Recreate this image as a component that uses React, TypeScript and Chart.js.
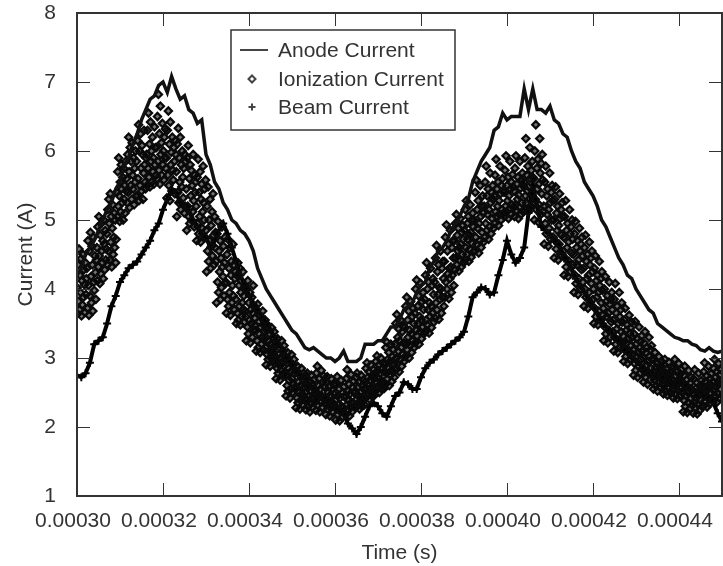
import React, { useEffect, useRef } from "react";
import { Chart, registerables } from "chart.js";

Chart.register(...registerables);

const seriesNames = ["Anode Current", "Ionization Current", "Beam Current"];
const xAxisTitle = "Time (s)";
const yAxisTitle = "Current (A)";
const FONT = "'Liberation Sans', Arial, sans-serif";
const INK = "#333333";

// sampled every 1 microsecond starting at 0.00030 s
const anodeCurrent = [
  4.2, 4.3, 4.5, 4.6, 4.7, 4.85, 5.0, 5.15, 5.25, 5.45, 5.55, 5.8, 5.9, 6.1, 6.25, 6.45, 6.6, 6.75, 6.8, 6.95,
  7.0, 6.85, 7.08, 6.9, 6.75, 6.8, 6.6, 6.55, 6.4, 6.45, 5.95, 5.8, 5.55, 5.45, 5.25, 5.15, 5.0, 4.95, 4.85, 4.8,
  4.7, 4.55, 4.3, 4.15, 4.0, 3.9, 3.8, 3.7, 3.6, 3.5, 3.4, 3.35, 3.25, 3.15, 3.12, 3.15, 3.1, 3.05, 3.0, 3.0,
  2.95, 3.0, 3.1, 2.95, 2.95, 2.95, 3.0, 3.2, 3.2, 3.2, 3.25, 3.25, 3.35, 3.45, 3.45, 3.55, 3.7, 3.75, 3.8, 3.95,
  4.05, 4.1, 4.3, 4.4, 4.55, 4.6, 4.7, 4.85, 4.95, 5.05, 5.2, 5.3, 5.55, 5.7, 5.85, 5.95, 6.05, 6.3, 6.35, 6.55,
  6.45, 6.5, 6.5, 6.5, 6.9, 6.6, 6.9, 6.6, 6.6, 6.55, 6.65, 6.45, 6.4, 6.25, 6.2, 6.0, 5.85, 5.75, 5.55, 5.45,
  5.35, 5.2, 5.0, 4.9, 4.75, 4.6, 4.45, 4.35, 4.2, 4.15, 4.0, 3.9, 3.8, 3.7, 3.65, 3.5, 3.45, 3.4, 3.35, 3.3,
  3.28, 3.25, 3.25, 3.2, 3.18, 3.12, 3.1, 3.15, 3.1, 3.08, 3.1,
];

const beamCurrent = [
  2.75, 2.72, 2.78, 2.93, 3.2, 3.25, 3.3, 3.5, 3.75, 3.9, 4.1, 4.2, 4.3, 4.35, 4.4, 4.5, 4.6, 4.7, 4.85, 4.95,
  5.15, 5.3, 5.45, 5.4, 5.25, 5.2, 5.15, 5.0, 4.9, 4.8, 4.75, 4.6, 4.7, 4.85, 4.95, 4.8, 4.6, 4.4, 4.2, 4.05,
  3.9, 3.8, 3.7, 3.6, 3.5, 3.4, 3.3, 3.2, 3.1, 3.0, 2.9, 2.8, 2.75, 2.7, 2.6, 2.55, 2.5, 2.45, 2.4, 2.35,
  2.3, 2.25, 2.2, 2.05, 1.98, 1.9, 2.0, 2.15, 2.3, 2.35, 2.3, 2.2, 2.15, 2.3, 2.45, 2.5, 2.65, 2.62, 2.55, 2.55,
  2.72, 2.85, 2.93, 2.98, 3.05, 3.1, 3.15, 3.2, 3.25, 3.3, 3.38, 3.6, 3.88, 3.95, 4.02, 4.0, 3.92, 3.95, 4.2, 4.42,
  4.7, 4.5, 4.38, 4.45, 4.6, 5.1, 5.5, 5.2, 4.9, 4.85, 4.8, 4.7, 4.65, 4.5, 4.4, 4.3, 4.15, 4.05, 3.95, 3.85,
  3.75, 3.65, 3.55, 3.45, 3.4, 3.3, 3.25, 3.15, 3.1, 3.0, 2.95, 2.9, 2.85, 2.8, 2.75, 2.7, 2.7, 2.65, 2.65, 2.6,
  2.65, 2.6, 2.6, 2.55, 2.5, 2.5, 2.45, 2.4, 2.35, 2.2, 2.08,
];

// ionization samples are evenly spaced in time across the whole axis
const ionFirstPeak = [
  4.02, 3.64, 4.35, 3.82, 4.58, 3.7, 4.2, 3.95, 4.44, 3.61, 4.12, 3.77, 4.5, 3.88, 4.28, 4.06, 3.66, 4.38, 3.92, 4.15,
  4.3, 3.72, 4.7, 4.05, 3.62, 4.55, 3.9, 4.82, 4.18, 3.8, 4.62, 4.35, 3.68, 4.75, 4.1, 3.98, 4.48, 4.24, 3.85, 4.42,
  4.6, 4.12, 4.9, 4.32, 5.05, 4.48, 4.08, 4.78, 4.22, 4.95, 4.55, 4.38, 4.7, 4.15, 5.0, 4.65, 4.28, 4.85, 4.42, 4.58,
  4.8, 4.35, 5.15, 4.55, 5.3, 4.95, 4.42, 5.38, 4.68, 5.05, 4.32, 4.88, 5.22, 4.5, 4.75, 5.1, 4.6, 5.0, 4.38, 4.72,
  5.4, 5.05, 5.7, 5.2, 5.9, 5.35, 4.98, 5.55, 5.12, 5.8, 5.45, 5.25, 5.62, 5.0, 5.75, 5.3, 5.5, 5.1, 5.85, 5.42,
  5.6, 5.25, 5.95, 5.4, 6.2, 5.7, 5.18, 6.05, 5.5, 5.85, 5.3, 6.12, 5.65, 5.45, 5.9, 5.22, 5.75, 5.55, 6.0, 5.35,
  5.85, 5.35, 6.15, 5.6, 6.38, 5.28, 6.0, 5.5, 6.25, 5.75, 5.42, 6.08, 5.95, 5.3, 5.68, 6.3, 5.8, 5.55, 5.45, 5.9,
  5.95, 5.5, 6.3, 5.75, 6.55, 5.62, 6.1, 5.48, 6.42, 5.85, 6.0, 5.55, 6.2, 5.7, 5.9, 5.52, 6.35, 5.8, 6.05, 5.65,
  6.05, 5.6, 6.5, 5.85, 6.82, 5.72, 6.25, 5.52, 6.65, 5.95, 6.12, 5.65, 6.4, 5.8, 6.0, 5.58, 6.2, 5.9, 6.32, 5.75,
  5.9, 5.32, 6.3, 5.65, 6.58, 5.5, 6.1, 5.28, 6.42, 5.8, 5.98, 5.42, 6.2, 5.72, 5.58, 6.05, 5.85, 5.38, 6.15, 5.95,
  5.7, 5.05, 6.1, 5.4, 6.33, 5.25, 5.9, 5.55, 6.2, 5.15, 5.8, 5.48, 6.0, 5.62, 5.32, 5.75, 5.1, 5.95, 5.2, 5.85,
  5.45, 4.85, 5.9, 5.2, 6.08, 5.05, 5.6, 4.95, 5.8, 5.35, 5.72, 5.0, 5.5, 5.12, 5.95, 5.28, 4.9, 5.65, 5.4, 5.55,
  5.2, 4.7, 5.62, 4.95, 5.88, 4.8, 5.4, 5.05, 5.7, 4.68, 5.3, 5.52, 4.88, 5.12, 5.78, 5.25, 5.0, 5.45, 4.75, 5.58,
  4.85, 4.25, 5.2, 4.55, 5.48, 4.4, 5.0, 4.7, 5.3, 4.3, 4.92, 4.62, 5.12, 4.48, 5.38, 4.78, 4.35, 5.05, 4.6, 4.82,
  4.4, 3.8, 4.8, 4.1, 4.98, 3.95, 4.55, 4.25, 4.7, 3.85, 4.45, 4.02, 4.9, 4.32, 4.18, 4.62, 3.9, 4.38, 4.75, 4.08,
];

const ionTrough = [
  4.1, 3.65, 4.5, 3.85, 4.72, 3.75, 4.3, 3.95, 4.6, 3.62, 4.2, 4.4, 3.8, 4.05, 4.65, 3.9, 4.35, 3.7, 4.15, 4.25,
  3.85, 3.5, 4.2, 3.65, 4.38, 3.55, 4.05, 3.75, 4.3, 3.48, 3.95, 4.12, 3.6, 3.8, 4.25, 3.7, 3.9, 3.52, 4.0, 3.68,
  3.6, 3.25, 4.0, 3.45, 4.12, 3.35, 3.8, 3.55, 3.95, 3.22, 3.7, 3.5, 3.88, 3.3, 3.65, 4.05, 3.4, 3.75, 3.58, 3.48,
  3.4, 3.1, 3.7, 3.25, 3.78, 3.15, 3.52, 3.35, 3.62, 3.08, 3.45, 3.2, 3.58, 3.3, 3.68, 3.12, 3.48, 3.38, 3.28, 3.55,
  3.15, 2.9, 3.4, 3.05, 3.48, 2.98, 3.25, 3.1, 3.35, 2.88, 3.2, 3.0, 3.44, 3.12, 2.95, 3.3, 3.08, 3.38, 3.18, 3.02,
  2.95, 2.7, 3.2, 2.85, 3.28, 2.78, 3.05, 2.9, 3.15, 2.68, 3.0, 2.82, 3.25, 2.92, 2.75, 3.1, 2.88, 3.18, 2.98, 2.8,
  2.75, 2.45, 3.0, 2.6, 3.08, 2.52, 2.85, 2.68, 2.95, 2.42, 2.8, 2.55, 3.05, 2.7, 2.5, 2.9, 2.62, 2.98, 2.78, 2.58,
  2.55, 2.28, 2.8, 2.42, 2.88, 2.35, 2.65, 2.5, 2.75, 2.26, 2.6, 2.38, 2.85, 2.48, 2.32, 2.7, 2.45, 2.78, 2.58, 2.4,
  2.5, 2.25, 2.7, 2.38, 2.78, 2.3, 2.58, 2.45, 2.65, 2.22, 2.52, 2.34, 2.75, 2.42, 2.28, 2.62, 2.4, 2.68, 2.55, 2.36,
  2.5, 2.24, 2.78, 2.4, 2.88, 2.32, 2.6, 2.46, 2.7, 2.22, 2.55, 2.36, 2.82, 2.44, 2.28, 2.65, 2.42, 2.74, 2.58, 2.34,
  2.42, 2.18, 2.65, 2.32, 2.73, 2.26, 2.5, 2.38, 2.58, 2.16, 2.46, 2.28, 2.7, 2.36, 2.22, 2.55, 2.34, 2.62, 2.48, 2.3,
  2.38, 2.1, 2.62, 2.26, 2.73, 2.18, 2.46, 2.32, 2.55, 2.09, 2.42, 2.22, 2.68, 2.3, 2.14, 2.5, 2.28, 2.58, 2.44, 2.2,
  2.45, 2.18, 2.7, 2.32, 2.83, 2.25, 2.52, 2.38, 2.62, 2.16, 2.48, 2.28, 2.76, 2.36, 2.22, 2.58, 2.34, 2.66, 2.5, 2.3,
  2.52, 2.28, 2.72, 2.4, 2.78, 2.34, 2.58, 2.45, 2.65, 2.26, 2.5, 2.36, 2.75, 2.42, 2.3, 2.6, 2.38, 2.68, 2.55, 2.32,
  2.65, 2.42, 2.85, 2.55, 2.93, 2.48, 2.72, 2.6, 2.8, 2.4, 2.68, 2.5, 2.9, 2.58, 2.45, 2.75, 2.52, 2.83, 2.7, 2.46,
  2.75, 2.52, 2.95, 2.65, 3.03, 2.58, 2.82, 2.7, 2.9, 2.5, 2.78, 2.6, 3.0, 2.68, 2.55, 2.85, 2.62, 2.92, 2.8, 2.56,
  2.9, 2.62, 3.15, 2.78, 3.23, 2.7, 2.98, 2.85, 3.08, 2.6, 2.95, 2.75, 3.2, 2.82, 2.66, 3.02, 2.8, 3.12, 2.92, 2.72,
];

const ionSecondPeak = [
  3.2, 2.82, 3.5, 3.0, 3.63, 2.92, 3.3, 3.1, 3.42, 2.8, 3.25, 2.98, 3.55, 3.15, 2.88, 3.38, 3.05, 3.46, 3.22, 2.95,
  3.45, 3.02, 3.75, 3.2, 3.88, 3.12, 3.55, 3.3, 3.68, 3.0, 3.4, 3.18, 3.82, 3.35, 3.08, 3.6, 3.25, 3.72, 3.5, 3.15,
  3.65, 3.22, 4.0, 3.4, 4.13, 3.32, 3.75, 3.5, 3.9, 3.2, 3.6, 3.38, 4.08, 3.55, 3.28, 3.82, 3.45, 3.95, 3.7, 3.35,
  3.85, 3.38, 4.2, 3.55, 4.38, 3.48, 4.0, 3.7, 4.1, 3.36, 3.8, 3.6, 4.3, 3.75, 3.44, 4.05, 3.65, 4.15, 3.92, 3.52,
  4.1, 3.58, 4.45, 3.8, 4.63, 3.7, 4.25, 3.92, 4.35, 3.56, 4.02, 3.85, 4.55, 4.0, 3.65, 4.3, 3.88, 4.4, 4.15, 3.75,
  4.4, 3.88, 4.75, 4.1, 4.93, 4.0, 4.55, 4.22, 4.65, 3.86, 4.3, 4.15, 4.85, 4.32, 3.95, 4.6, 4.2, 4.7, 4.45, 4.05,
  4.7, 4.28, 4.95, 4.45, 5.08, 4.35, 4.78, 4.55, 4.88, 4.26, 4.6, 4.42, 5.02, 4.65, 4.32, 4.82, 4.5, 4.92, 4.72, 4.38,
  4.85, 4.42, 5.15, 4.6, 5.28, 4.5, 4.95, 4.72, 5.05, 4.4, 4.78, 4.58, 5.22, 4.82, 4.46, 5.0, 4.66, 5.1, 4.9, 4.54,
  5.0, 4.55, 5.4, 4.75, 5.58, 4.65, 5.15, 4.88, 5.28, 4.52, 4.95, 4.7, 5.5, 5.05, 4.6, 5.2, 4.82, 5.35, 5.1, 4.68,
  5.2, 4.75, 5.55, 4.95, 5.78, 4.85, 5.35, 5.08, 5.45, 4.72, 5.15, 4.9, 5.68, 5.25, 4.8, 5.4, 5.02, 5.5, 5.3, 4.88,
  5.35, 4.95, 5.65, 5.12, 5.88, 5.05, 5.45, 5.2, 5.55, 4.92, 5.28, 5.08, 5.78, 5.38, 5.0, 5.5, 5.15, 5.6, 5.42, 5.1,
  5.4, 5.05, 5.72, 5.2, 5.93, 5.12, 5.5, 5.28, 5.62, 5.02, 5.35, 5.16, 5.85, 5.45, 5.08, 5.55, 5.22, 5.66, 5.48, 5.18,
  5.42, 5.05, 5.75, 5.22, 5.93, 5.14, 5.52, 5.3, 5.62, 5.02, 5.36, 5.18, 5.85, 5.46, 5.08, 5.58, 5.25, 5.68, 5.5, 5.12,
  5.55, 5.15, 5.9, 5.35, 6.18, 5.25, 5.65, 5.42, 5.78, 5.12, 5.48, 5.3, 6.05, 5.6, 5.2, 5.72, 5.38, 5.85, 5.62, 5.22,
  5.6, 5.0, 6.0, 5.3, 6.38, 5.15, 5.75, 5.45, 5.88, 4.97, 5.52, 5.22, 6.18, 5.68, 5.08, 5.82, 5.38, 5.95, 5.58, 5.12,
  5.2, 4.65, 5.55, 4.95, 5.78, 4.8, 5.35, 5.08, 5.45, 4.62, 5.15, 4.88, 5.68, 5.25, 4.72, 5.4, 5.0, 5.5, 5.28, 4.75,
];

const ionTail = [
  5.0, 4.45, 5.3, 4.7, 5.48, 4.58, 5.1, 4.85, 5.2, 4.42, 4.92, 4.65, 5.38, 5.02, 4.5, 5.15, 4.78, 5.25, 5.05, 4.55,
  4.75, 4.2, 5.05, 4.45, 5.28, 4.32, 4.85, 4.6, 4.95, 4.18, 4.68, 4.4, 5.15, 4.8, 4.25, 4.9, 4.52, 5.0, 4.72, 4.35,
  4.5, 3.95, 4.8, 4.2, 4.98, 4.08, 4.6, 4.35, 4.7, 3.92, 4.42, 4.15, 4.88, 4.55, 4.0, 4.65, 4.28, 4.75, 4.48, 4.1,
  4.3, 3.75, 4.6, 4.0, 4.78, 3.88, 4.4, 4.15, 4.5, 3.72, 4.2, 3.95, 4.68, 4.35, 3.8, 4.45, 4.08, 4.55, 4.25, 3.85,
  4.0, 3.5, 4.3, 3.72, 4.48, 3.6, 4.12, 3.88, 4.2, 3.48, 3.95, 3.68, 4.4, 4.05, 3.55, 4.15, 3.8, 4.25, 3.98, 3.62,
  3.72, 3.25, 4.0, 3.45, 4.18, 3.35, 3.82, 3.6, 3.9, 3.22, 3.65, 3.4, 4.1, 3.78, 3.3, 3.85, 3.52, 3.95, 3.7, 3.38,
  3.55, 3.1, 3.85, 3.3, 4.08, 3.2, 3.65, 3.42, 3.75, 3.08, 3.5, 3.25, 3.95, 3.6, 3.15, 3.7, 3.38, 3.8, 3.52, 3.22,
  3.32, 2.95, 3.55, 3.12, 3.72, 3.02, 3.4, 3.22, 3.48, 2.92, 3.28, 3.08, 3.62, 3.36, 2.98, 3.44, 3.18, 3.52, 3.3, 3.05,
  3.12, 2.75, 3.35, 2.92, 3.53, 2.82, 3.2, 3.02, 3.28, 2.72, 3.08, 2.88, 3.45, 3.15, 2.78, 3.24, 2.98, 3.32, 3.1, 2.85,
  3.0, 2.65, 3.22, 2.8, 3.38, 2.72, 3.08, 2.9, 3.15, 2.62, 2.95, 2.78, 3.3, 3.02, 2.68, 3.12, 2.85, 3.18, 2.98, 2.75,
  2.8, 2.55, 2.98, 2.68, 3.08, 2.6, 2.86, 2.74, 2.92, 2.52, 2.78, 2.64, 3.02, 2.83, 2.58, 2.89, 2.7, 2.95, 2.77, 2.62,
  2.72, 2.48, 2.9, 2.6, 2.98, 2.52, 2.78, 2.66, 2.84, 2.46, 2.7, 2.56, 2.94, 2.75, 2.5, 2.8, 2.63, 2.87, 2.68, 2.54,
  2.68, 2.42, 2.86, 2.55, 2.98, 2.48, 2.74, 2.6, 2.8, 2.41, 2.65, 2.52, 2.92, 2.7, 2.45, 2.77, 2.58, 2.83, 2.66, 2.5,
  2.52, 2.22, 2.75, 2.38, 2.88, 2.3, 2.6, 2.45, 2.68, 2.21, 2.5, 2.35, 2.82, 2.56, 2.26, 2.64, 2.42, 2.72, 2.54, 2.32,
  2.48, 2.2, 2.7, 2.35, 2.83, 2.28, 2.56, 2.42, 2.64, 2.19, 2.46, 2.32, 2.78, 2.52, 2.24, 2.6, 2.4, 2.67, 2.5, 2.3,
  2.58, 2.3, 2.8, 2.45, 2.93, 2.38, 2.66, 2.52, 2.74, 2.29, 2.56, 2.42, 2.88, 2.62, 2.34, 2.7, 2.5, 2.77, 2.6, 2.4,
  2.65, 2.38, 2.85, 2.52, 2.98, 2.45, 2.72, 2.58, 2.8, 2.36, 2.62, 2.48, 2.92, 2.68, 2.42, 2.76, 2.55, 2.83, 2.66, 2.46,
];

const ionizationCurrent = [...ionFirstPeak, ...ionTrough, ...ionSecondPeak, ...ionTail];

const T_START = 0.0003;
const T_END = 0.00045;
const PLOT_RIGHT = 722;
const onGrid = (vals: number[]) =>
  vals.map((y, i) => ({ x: T_START + (i * (T_END - T_START)) / (vals.length - 1), y }));

const framePlugin = {
  id: "frameAndKey",
  afterLayout(chart: any) {
    const a = chart.chartArea;
    const x = chart.scales.x;
    a.right = PLOT_RIGHT;
    a.width = a.right - a.left;
    x.right = PLOT_RIGHT;
    x.width = a.width;
    x.configure();
  },
  afterDatasetsDraw(chart: any) {
    const { ctx, chartArea: a, scales } = chart;
    const TICK = 13;
    ctx.save();
    ctx.strokeStyle = INK;
    ctx.lineWidth = 1;
    ctx.beginPath();
    for (const t of scales.x.ticks) {
      const p = Math.round(scales.x.getPixelForValue(t.value)) + 0.5;
      ctx.moveTo(p, a.bottom);
      ctx.lineTo(p, a.bottom - TICK);
      ctx.moveTo(p, a.top);
      ctx.lineTo(p, a.top + TICK);
    }
    for (const t of scales.y.ticks) {
      const p = Math.round(scales.y.getPixelForValue(t.value)) + 0.5;
      ctx.moveTo(a.left, p);
      ctx.lineTo(a.left + TICK, p);
      ctx.moveTo(a.right, p);
      ctx.lineTo(a.right - TICK, p);
    }
    ctx.stroke();
    ctx.lineWidth = 2;
    ctx.strokeRect(a.left, a.top, a.right - a.left, a.bottom - a.top);

    // key
    const kx = 231, ky = 30, kw = 224, kh = 100;
    ctx.fillStyle = "#ffffff";
    ctx.fillRect(kx, ky, kw, kh);
    ctx.lineWidth = 1.5;
    ctx.strokeRect(kx, ky, kw, kh);
    const rows = [50, 79, 107];
    ctx.fillStyle = INK;
    ctx.font = `21px ${FONT}`;
    ctx.textBaseline = "middle";
    ctx.textAlign = "left";
    seriesNames.forEach((name, i) => ctx.fillText(name, 278, rows[i] + 1));
    ctx.strokeStyle = "#444444";
    ctx.lineWidth = 2;
    ctx.beginPath();
    ctx.moveTo(240, rows[0]);
    ctx.lineTo(268, rows[0]);
    ctx.stroke();
    ctx.lineWidth = 2;
    ctx.beginPath();
    const m = rows[1];
    ctx.moveTo(252, m - 3.5);
    ctx.lineTo(255.5, m);
    ctx.lineTo(252, m + 3.5);
    ctx.lineTo(248.5, m);
    ctx.closePath();
    ctx.stroke();
    ctx.beginPath();
    ctx.moveTo(252, rows[2] - 3.5);
    ctx.lineTo(252, rows[2] + 3.5);
    ctx.moveTo(248.5, rows[2]);
    ctx.lineTo(255.5, rows[2]);
    ctx.stroke();
    ctx.restore();
  },
};

export default function App() {
  const ref = useRef<HTMLCanvasElement>(null);
  useEffect(() => {
    document.body.style.margin = "0";
    const font = { family: FONT, size: 21 };
    const chart = new Chart(ref.current!, {
      type: "scatter",
      data: {
        datasets: [
          {
            label: seriesNames[0],
            data: onGrid(anodeCurrent),
            showLine: true,
            borderColor: "#111111",
            borderWidth: 3.5,
            pointRadius: 0,
          },
          {
            label: seriesNames[1],
            data: onGrid(ionizationCurrent),
            showLine: false,
            pointStyle: "rectRot",
            pointRadius: 3.6,
            pointBorderWidth: 2.2,
            pointBorderColor: "#0a0a0a",
            pointBackgroundColor: "rgba(0,0,0,0.55)",
          },
          {
            label: seriesNames[2],
            data: onGrid(beamCurrent),
            showLine: true,
            borderColor: "#000000",
            borderWidth: 4,
            pointStyle: "cross",
            pointRadius: 4,
            pointBorderWidth: 2,
            pointBorderColor: "#000000",
          },
        ],
      },
      options: {
        animation: false,
        responsive: false,
        layout: { padding: { top: 13, right: 1, left: 0, bottom: 0 } },
        plugins: { legend: { display: false }, tooltip: { enabled: false } },
        scales: {
          x: {
            type: "linear",
            min: T_START,
            max: T_END,
            grid: { display: false },
            border: { display: false },
            afterFit: (s: any) => { s.height = 70; },
            title: { display: true, text: xAxisTitle, color: INK, font, padding: { top: 8, bottom: 0 } },
            ticks: {
              stepSize: 0.00002,
              includeBounds: false,
              autoSkip: false,
              maxRotation: 0,
              color: INK,
              font,
              padding: 5,
              labelOffset: -4,
              callback: (v: any) => Number(v).toFixed(5),
            },
          },
          y: {
            min: 1,
            max: 8,
            grid: { display: false },
            border: { display: false },
            afterFit: (s: any) => { s.width = 77; s.paddingTop = 0; s.paddingBottom = 0; },
            title: { display: true, text: yAxisTitle, color: INK, font, padding: { top: 14, bottom: 0 } },
            ticks: { stepSize: 1, color: INK, font, padding: 13 },
          },
        },
      },
      plugins: [framePlugin],
    } as any);
    return () => chart.destroy();
  }, []);
  return (
    <div style={{ position: "absolute", left: 0, top: 0, width: 723, height: 566 }}>
      <canvas ref={ref} width={723} height={566} style={{ display: "block" }} />
    </div>
  );
}
